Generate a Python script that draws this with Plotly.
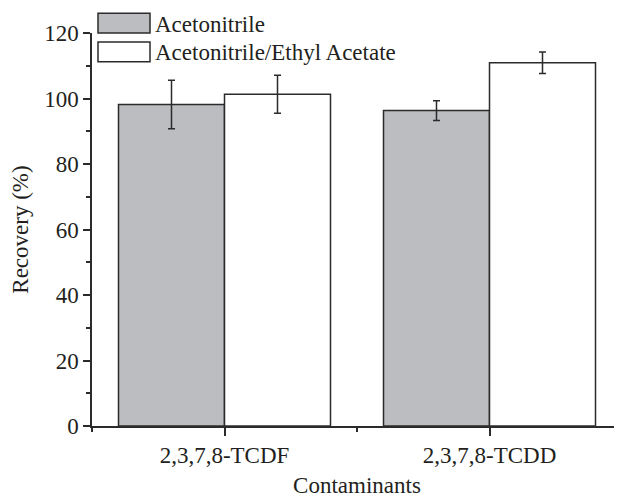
import plotly.graph_objects as go

categories = ["2,3,7,8-TCDF", "2,3,7,8-TCDD"]
series_names = ["Acetonitrile", "Acetonitrile/Ethyl Acetate"]
acn_values = [98.2, 96.3]
acn_errors = [7.4, 3.0]
mix_values = [101.3, 110.9]
mix_errors = [5.8, 3.3]
y_ticks = [0, 20, 40, 60, 80, 100, 120]

FONT = "Liberation Serif, Times New Roman, serif"
TXT = "#231f20"
LINE = "#2b2b2b"
GRAY = "#bcbdc1"

xpos = list(range(len(categories)))

fig = go.Figure()
fig.add_trace(go.Bar(
    x=xpos, y=acn_values, name=series_names[0], showlegend=False,
    marker=dict(color=GRAY, line=dict(color=LINE, width=1.5)),
    error_y=dict(type="data", array=acn_errors, color=LINE, thickness=1.5, width=3.5),
))
fig.add_trace(go.Bar(
    x=xpos, y=mix_values, name=series_names[1], showlegend=False,
    marker=dict(color="white", line=dict(color=LINE, width=1.5)),
    error_y=dict(type="data", array=mix_errors, color=LINE, thickness=1.5, width=3.5),
))

# figure geometry (page body adds an 8px offset)
W, H = 614, 490
ml, mr, mt, mb = 84, 0, 25, 69
pw, ph = W - ml - mr, H - mt - mb

def px_x(x):
    return (x - ml) / pw

def px_y(y):
    return (H - mb - y) / ph

# custom legend (large swatches + text)
legend_rows = [(series_names[0], GRAY, 5, 25), (series_names[1], "white", 34, 54)]
for name, col, y0, y1 in legend_rows:
    fig.add_shape(type="rect", xref="paper", yref="paper",
                  x0=px_x(90), x1=px_x(142), y0=px_y(y1), y1=px_y(y0),
                  fillcolor=col, line=dict(color=LINE, width=1.5), layer="above")
    fig.add_annotation(xref="paper", yref="paper", x=px_x(145), y=px_y((y0 + y1) / 2 + 1),
                       text=name, showarrow=False, xanchor="left", yanchor="middle",
                       font=dict(family=FONT, size=23, color=TXT))

fig.update_layout(
    width=W, height=H,
    margin=dict(l=ml, r=mr, t=mt, b=mb),
    paper_bgcolor="white", plot_bgcolor="white",
    barmode="group", bargap=0.2, bargroupgap=0,
    font=dict(family=FONT, size=23, color=TXT),
    xaxis=dict(
        range=[-0.5, 1.5], tickvals=xpos, ticktext=categories,
        showline=True, linecolor=LINE, linewidth=1.5,
        ticks="outside", ticklen=8, tickwidth=1.5, tickcolor=LINE,
        ticklabelstandoff=0,
        minor=dict(tick0=0.5, dtick=1, ticks="outside", ticklen=4, tickwidth=1.5, tickcolor=LINE),
        showgrid=False, zeroline=False,
        title=dict(text="Contaminants", standoff=14, font=dict(family=FONT, size=23, color=TXT)),
        tickfont=dict(family=FONT, size=23, color=TXT),
    ),
    yaxis=dict(
        range=[0, 120], tickvals=y_ticks,
        showline=True, linecolor=LINE, linewidth=1.5,
        ticks="outside", ticklen=7, tickwidth=1.5, tickcolor=LINE,
        minor=dict(dtick=10, ticks="outside", ticklen=4, tickwidth=1.5, tickcolor=LINE),
        showgrid=False, zeroline=False,
        title=dict(text="Recovery (%)", standoff=10, font=dict(family=FONT, size=23, color=TXT)),
        tickfont=dict(family=FONT, size=23, color=TXT),
    ),
)

fig.write_html("out.html")
